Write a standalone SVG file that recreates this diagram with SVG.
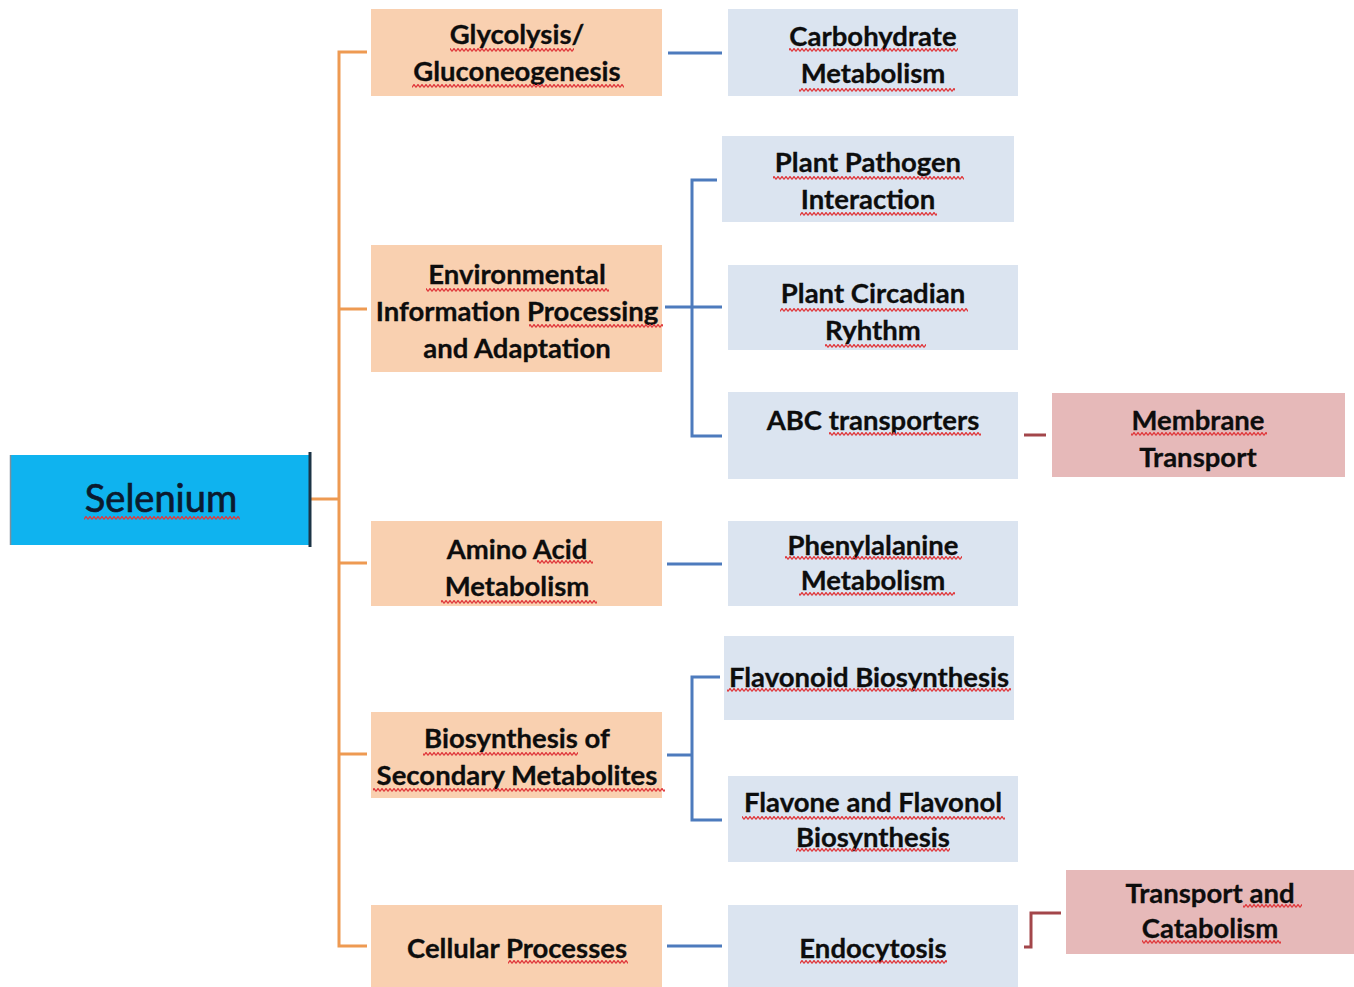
<svg xmlns="http://www.w3.org/2000/svg" width="1354" height="987" viewBox="0 0 1354 987">
<defs>
<pattern id="sq" width="4" height="4" patternUnits="userSpaceOnUse">
<path d="M0,3.5 L2,0.5 L4,3.5" fill="none" stroke="#e0393c" stroke-width="1.3"/>
</pattern>
<style>
.t{font-family:Lato,"Liberation Sans",sans-serif;font-weight:bold;font-size:27.5px;fill:#0d0d0d;text-anchor:middle;stroke:#0d0d0d;stroke-width:0.3}
.or{fill:#f9d0b0}
.bl{fill:#dbe4f0}
.rd{fill:#e6b9b9}
.lo{stroke:#ee9a52;stroke-width:3;fill:none}
.lb{stroke:#4d7bbd;stroke-width:3;fill:none}
.lr{stroke:#a3464a;stroke-width:3;fill:none}
.s{fill:url(#sq)}
</style>
</defs>
<rect width="1354" height="987" fill="#fff"/>
<g id="connectors">
<path class="lo" d="M367,52 H339 V946 H367 M339,309 H367 M311,499 H339 M339,563 H367 M339,754 H367"/>
<path class="lb" d="M668,53 H722"/>
<path class="lb" d="M665,307 H722 M717,180 H692 V436 H722"/>
<path class="lb" d="M667,564 H722"/>
<path class="lb" d="M667,755 H692 M720,677 H692 V820 H722"/>
<path class="lb" d="M667,946 H722"/>
<path class="lr" d="M1024,435 H1046"/>
<path class="lr" d="M1024,947 H1031 V913 H1061"/>
</g>
<g id="selenium">
<rect x="10" y="455" width="301" height="90" fill="#0fb3ef"/>
<line x1="10.5" y1="455" x2="10.5" y2="545" stroke="#7d8f9c" stroke-width="1.5"/>
<line x1="310" y1="452" x2="310" y2="547" stroke="#1c3446" stroke-width="3"/>
<text x="161" y="512" style="font-family:Lato,'Liberation Sans',sans-serif;font-size:38px;fill:#0b1a2e;stroke:#0b1a2e;stroke-width:0.7;text-anchor:middle">Selenium</text>
<rect class="s" x="84" y="516" width="156" height="4"/>
</g>
<g id="glycolysis">
<rect class="or" x="371" y="9" width="291" height="87"/>
<text class="t" x="517" y="44">Glycolysis/</text>
<text class="t" x="517" y="81">Gluconeogenesis</text>
<rect class="s" x="450" y="48" width="124" height="4"/>
<rect class="s" x="412" y="84" width="212" height="4"/>
</g>
<g id="carbohydrate">
<rect class="bl" x="728" y="9" width="290" height="87"/>
<text class="t" x="873" y="46">Carbohydrate</text>
<text class="t" x="873" y="83">Metabolism</text>
<rect class="s" x="789" y="48" width="169" height="4"/>
<rect class="s" x="799" y="88" width="156" height="4"/>
</g>
<g id="environmental">
<rect class="or" x="371" y="245" width="291" height="127"/>
<text class="t" x="517" y="284">Environmental</text>
<text class="t" x="517" y="321">Information Processing</text>
<text class="t" x="517" y="358">and Adaptation</text>
<rect class="s" x="426" y="288" width="183" height="4"/>
<rect class="s" x="529" y="324" width="134" height="4"/>
</g>
<g id="plant-pathogen">
<rect class="bl" x="722" y="136" width="292" height="86"/>
<text class="t" x="868" y="172">Plant Pathogen</text>
<text class="t" x="868" y="209">Interaction</text>
<rect class="s" x="773" y="176" width="191" height="4"/>
<rect class="s" x="800" y="212" width="137" height="4"/>
</g>
<g id="plant-circadian">
<rect class="bl" x="728" y="265" width="290" height="85"/>
<text class="t" x="873" y="303">Plant Circadian</text>
<text class="t" x="873" y="340">Ryhthm</text>
<rect class="s" x="780" y="308" width="188" height="4"/>
<rect class="s" x="825" y="344" width="101" height="4"/>
</g>
<g id="abc-transporters">
<rect class="bl" x="728" y="392" width="290" height="87"/>
<text class="t" x="873" y="430">ABC transporters</text>
<rect class="s" x="829" y="432" width="152" height="4"/>
</g>
<g id="membrane-transport">
<rect class="rd" x="1052" y="393" width="293" height="84"/>
<text class="t" x="1198" y="430">Membrane</text>
<text class="t" x="1198" y="467">Transport</text>
<rect class="s" x="1131" y="432" width="136" height="4"/>
</g>
<g id="amino-acid">
<rect class="or" x="371" y="521" width="291" height="85"/>
<text class="t" x="517" y="559">Amino Acid</text>
<text class="t" x="517" y="596">Metabolism</text>
<rect class="s" x="537" y="560" width="56" height="4"/>
<rect class="s" x="441" y="600" width="156" height="4"/>
</g>
<g id="phenylalanine">
<rect class="bl" x="728" y="521" width="290" height="85"/>
<text class="t" x="873" y="555">Phenylalanine</text>
<text class="t" x="873" y="590">Metabolism</text>
<rect class="s" x="785" y="556" width="177" height="4"/>
<rect class="s" x="799" y="592" width="156" height="4"/>
</g>
<g id="biosynthesis">
<rect class="or" x="371" y="712" width="291" height="86"/>
<text class="t" x="517" y="748">Biosynthesis of</text>
<text class="t" x="517" y="785">Secondary Metabolites</text>
<rect class="s" x="423" y="752" width="155" height="4"/>
<rect class="s" x="373" y="788" width="292" height="4"/>
</g>
<g id="flavonoid">
<rect class="bl" x="724" y="636" width="290" height="84"/>
<text class="t" x="869" y="687">Flavonoid Biosynthesis</text>
<rect class="s" x="727" y="688" width="284" height="4"/>
</g>
<g id="flavone">
<rect class="bl" x="728" y="776" width="290" height="86"/>
<text class="t" x="873" y="812">Flavone and Flavonol</text>
<text class="t" x="873" y="847">Biosynthesis</text>
<rect class="s" x="742" y="816" width="263" height="4"/>
<rect class="s" x="796" y="848" width="154" height="4"/>
</g>
<g id="cellular">
<rect class="or" x="371" y="905" width="291" height="82"/>
<text class="t" x="517" y="958">Cellular Processes</text>
<rect class="s" x="508" y="960" width="120" height="4"/>
</g>
<g id="endocytosis">
<rect class="bl" x="728" y="905" width="290" height="82"/>
<text class="t" x="873" y="958">Endocytosis</text>
<rect class="s" x="800" y="960" width="147" height="4"/>
</g>
<g id="transport-catabolism">
<rect class="rd" x="1066" y="870" width="288" height="84"/>
<text class="t" x="1210" y="903">Transport and</text>
<text class="t" x="1210" y="938">Catabolism</text>
<rect class="s" x="1243" y="904" width="59" height="4"/>
<rect class="s" x="1142" y="940" width="139" height="4"/>
</g>
</svg>
